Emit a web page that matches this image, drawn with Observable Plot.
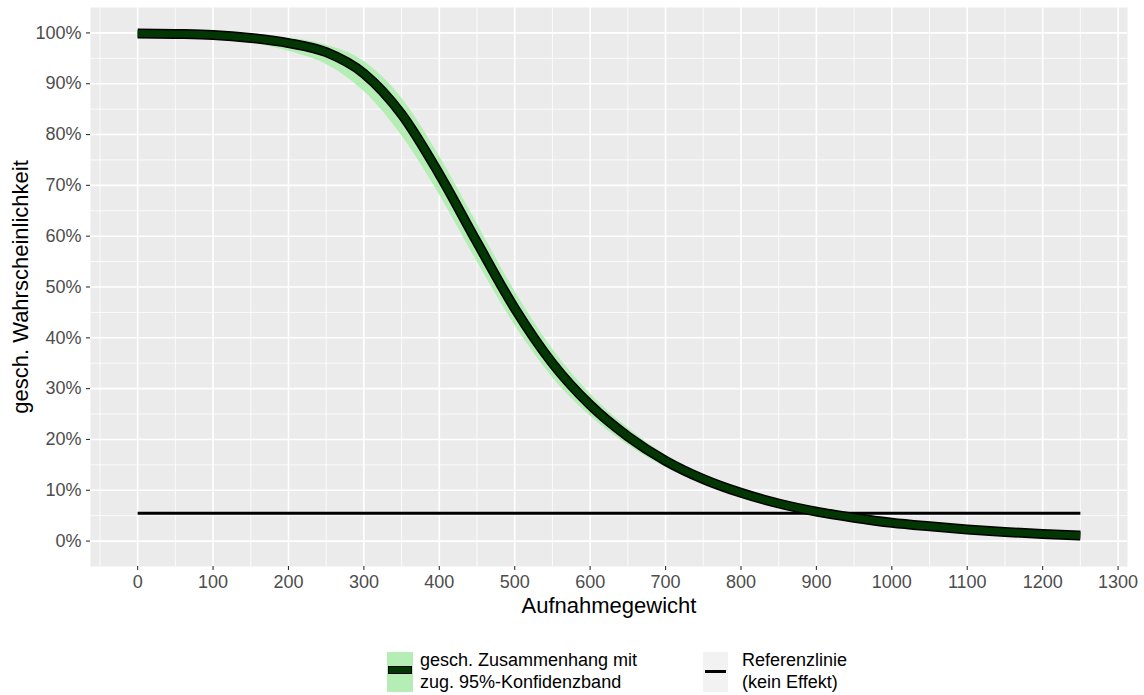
<!DOCTYPE html>
<html>
<head>
<meta charset="utf-8">
<script src="https://cdn.jsdelivr.net/npm/d3@7"></script>
<script src="https://cdn.jsdelivr.net/npm/@observablehq/plot@0.6"></script>
<style>
  body { margin: 0; background: #ffffff; font-family: "Liberation Sans", Arial, sans-serif; }
  #wrap { position: relative; width: 1144px; height: 695px; }
  #legend { position: relative; width: 1144px; height: 65px; }
  .key { position: absolute; }
  .bar { position: absolute; }
  .ltxt { position: absolute; font-size: 18px; line-height: 22px; color: #000; white-space: nowrap; }
</style>
</head>
<body>
<div id="wrap">
  <div id="chart"></div>
  <div id="legend">
    <div class="key" style="left:387px; top:22px; width:26px; height:40px; background:#B4EEB4;">
      <div class="bar" style="left:1px; top:14px; width:24px; height:8px; background:#000;"></div>
      <div class="bar" style="left:2px; top:15px; width:22px; height:6px; background:#023602;"></div>
    </div>
    <div class="ltxt" style="left:420px; top:19px;">gesch. Zusammenhang mit<br>zug. 95%-Konfidenzband</div>
    <div class="key" style="left:703px; top:22px; width:25px; height:40px; background:#F2F2F2;">
      <div class="bar" style="left:2px; top:18px; width:21px; height:3px; background:#000;"></div>
    </div>
    <div class="ltxt" style="left:742px; top:19px;">Referenzlinie<br>(kein Effekt)</div>
  </div>
</div>
<script>
// Estimated probability by intake weight, with the 95% confidence band
const weights = [0, 50, 100, 150, 200, 250, 300, 350, 400, 450, 500, 550, 600, 650,
                 700, 750, 800, 850, 900, 950, 1000, 1050, 1100, 1150, 1200, 1250];
const pEstimate = [0.999, 0.998, 0.996, 0.990, 0.980, 0.962, 0.920, 0.840, 0.722, 0.588, 0.458, 0.350, 0.268, 0.206,
                   0.158, 0.122, 0.095, 0.074, 0.058, 0.046, 0.036, 0.029, 0.023, 0.018, 0.014, 0.011];
const pLower = [0.997, 0.995, 0.990, 0.980, 0.964, 0.938, 0.885, 0.798, 0.682, 0.550, 0.425, 0.322, 0.246, 0.189,
                0.145, 0.112, 0.087, 0.067, 0.052, 0.041, 0.032, 0.025, 0.019, 0.014, 0.010, 0.007];
const pUpper = [1.000, 0.999, 0.998, 0.995, 0.990, 0.976, 0.944, 0.872, 0.758, 0.625, 0.492, 0.378, 0.290, 0.223,
                0.170, 0.132, 0.103, 0.081, 0.064, 0.051, 0.040, 0.033, 0.027, 0.022, 0.018, 0.015];

// Reference line (no effect)
const refLevel = 0.055;
const refRange = [0, 1250];

// Axis ticks
const xTicks = [0, 100, 200, 300, 400, 500, 600, 700, 800, 900, 1000, 1100, 1200, 1300];
const xMinor = [-50, 50, 150, 250, 350, 450, 550, 650, 750, 850, 950, 1050, 1150, 1250];
const yTicks = [0, 0.1, 0.2, 0.3, 0.4, 0.5, 0.6, 0.7, 0.8, 0.9, 1.0];
const yMinor = [0.05, 0.15, 0.25, 0.35, 0.45, 0.55, 0.65, 0.75, 0.85, 0.95];

const xTitle = "Aufnahmegewicht";
const yTitle = "gesch. Wahrscheinlichkeit";

const curve = weights.map((w, i) => ({w, p: pEstimate[i], lo: pLower[i], hi: pUpper[i]}));
const refLine = refRange.map(w => ({w, p: refLevel}));

const pct = d => Math.round(d * 100) + "%";

const chart = Plot.plot({
  width: 1144,
  height: 630,
  marginLeft: 90,
  marginRight: 17,
  marginTop: 7,
  marginBottom: 64,
  style: {fontFamily: "'Liberation Sans', Arial, sans-serif", background: "#ffffff"},
  x: {domain: [-62.5, 1312.5]},
  y: {domain: [-0.05, 1.05]},
  marks: [
    Plot.frame({fill: "#EBEBEB", stroke: null}),
    Plot.gridX(xMinor, {stroke: "#ffffff", strokeOpacity: 1, strokeWidth: 0.8}),
    Plot.gridY(yMinor, {stroke: "#ffffff", strokeOpacity: 1, strokeWidth: 0.8}),
    Plot.gridX(xTicks, {stroke: "#ffffff", strokeOpacity: 1, strokeWidth: 1.6}),
    Plot.gridY(yTicks, {stroke: "#ffffff", strokeOpacity: 1, strokeWidth: 1.6}),
    Plot.areaY(curve, {x: "w", y1: "lo", y2: "hi", fill: "#B4EEB4", curve: "monotone-x"}),
    Plot.line(refLine, {x: "w", y: "p", stroke: "#000000", strokeWidth: 3, strokeLinecap: "butt"}),
    Plot.line(curve, {x: "w", y: "p", stroke: "#000000", strokeWidth: 10, curve: "monotone-x", strokeLinecap: "butt"}),
    Plot.line(curve, {x: "w", y: "p", stroke: "#023602", strokeWidth: 7, curve: "monotone-x", strokeLinecap: "butt"}),
    Plot.axisX({ticks: xTicks, tickFormat: d => String(d), tickSize: 4, tickPadding: 5,
                fontSize: 18, fill: "#4D4D4D", stroke: "#333333", strokeWidth: 1.1, label: null}),
    Plot.axisY({ticks: yTicks, tickFormat: pct, tickSize: 4, tickPadding: 5,
                fontSize: 18, fill: "#4D4D4D", stroke: "#333333", strokeWidth: 1.1, label: null}),
    Plot.text([xTitle], {frameAnchor: "bottom", dy: 46, fontSize: 22, fill: "#000000", textAnchor: "middle"}),
    Plot.text([yTitle], {frameAnchor: "left", dx: -70, rotate: -90, fontSize: 22, fill: "#000000", textAnchor: "middle"})
  ]
});

document.getElementById("chart").appendChild(chart);
</script>
</body>
</html>
